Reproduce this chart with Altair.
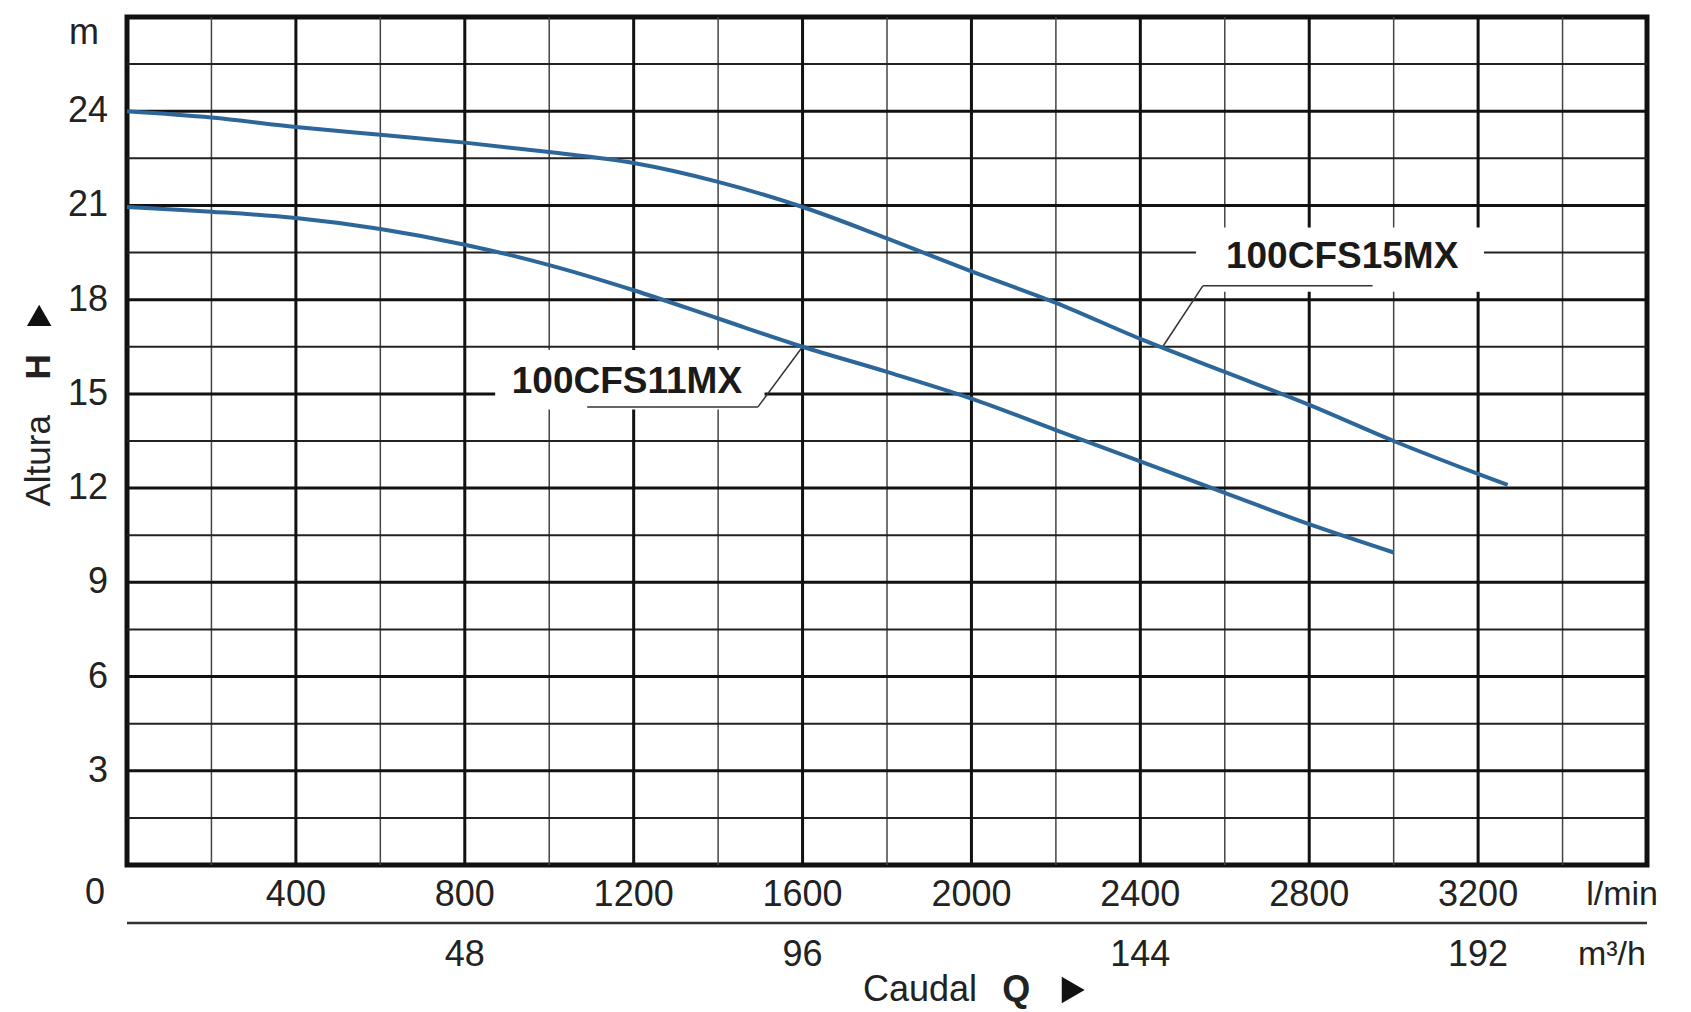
import altair as alt
import pandas as pd

# ---- data ----
q_15 = [0, 200, 400, 600, 800, 1000, 1200, 1400, 1600, 1800, 2000, 2200, 2400, 2600, 2800, 3000, 3200, 3270]
h_15 = [24.0, 23.8, 23.5, 23.25, 23.0, 22.7, 22.35, 21.75, 20.95, 19.95, 18.9, 17.9, 16.75, 15.7, 14.65, 13.5, 12.45, 12.1]
q_11 = [0, 200, 400, 600, 800, 1000, 1200, 1400, 1600, 1800, 2000, 2200, 2400, 2600, 2800, 3000]
h_11 = [20.95, 20.8, 20.6, 20.25, 19.75, 19.1, 18.3, 17.4, 16.5, 15.7, 14.85, 13.85, 12.85, 11.85, 10.85, 9.95]

y_ticks = [3, 6, 9, 12, 15, 18, 21, 24]
x_ticks_lmin = [400, 800, 1200, 1600, 2000, 2400, 2800, 3200]
x_ticks_m3h_pos = [800, 1600, 2400, 3200]
x_ticks_m3h_lab = ["48", "96", "144", "192"]

h_grid_major = [3, 6, 9, 12, 15, 18, 21, 24]
h_grid_minor = [1.5, 4.5, 7.5, 10.5, 13.5, 16.5, 19.5, 22.5, 25.5]
v_grid_major = [400, 800, 1200, 1600, 2000, 2400, 2800, 3200]
v_grid_minor = [200, 600, 1000, 1400, 1800, 2200, 2600, 3000, 3400]

XMAX = 3600
YMAX = 27

xs = alt.Scale(domain=[0, XMAX], nice=False, zero=False)
ys = alt.Scale(domain=[0, YMAX], nice=False, zero=False)

FONT = "Liberation Sans"
BLUE = "#2d6699"


def X(f="x"):
    return alt.X(f"{f}:Q", scale=xs, axis=None)


def Y(f="y"):
    return alt.Y(f"{f}:Q", scale=ys, axis=None)


# grid
hmaj = pd.DataFrame({"y": h_grid_major, "x": 0, "x2": XMAX})
hmin = pd.DataFrame({"y": h_grid_minor, "x": 0, "x2": XMAX})
vmaj = pd.DataFrame({"x": v_grid_major, "y": 0, "y2": YMAX})
vmin = pd.DataFrame({"x": v_grid_minor, "y": 0, "y2": YMAX})

g_hmaj = alt.Chart(hmaj).mark_rule(color="#111", strokeWidth=3).encode(x=X(), x2="x2:Q", y=Y())
g_hmin = alt.Chart(hmin).mark_rule(color="#222", strokeWidth=2).encode(x=X(), x2="x2:Q", y=Y())
g_vmaj = alt.Chart(vmaj).mark_rule(color="#111", strokeWidth=3).encode(x=X(), y=Y(), y2="y2:Q")
g_vmin = alt.Chart(vmin).mark_rule(color="#444", strokeWidth=1.5).encode(x=X(), y=Y(), y2="y2:Q")

# white label boxes
boxes = pd.DataFrame({
    "x": [872, 2532], "x2": [1510, 3214],
    "y": [14.5, 18.25], "y2": [16.4, 20.3],
})
g_boxes = alt.Chart(boxes).mark_rect(color="white").encode(x=X(), x2="x2:Q", y=Y(), y2="y2:Q")

# leader lines
leaders = pd.DataFrame({
    "x": [1600, 1494, 2451, 2548],
    "x2": [1494, 1090, 2548, 2950],
    "y": [16.5, 14.58, 16.46, 18.44],
    "y2": [14.58, 14.58, 18.44, 18.44],
})
g_lead = alt.Chart(leaders).mark_rule(color="#333", strokeWidth=1.5).encode(
    x=X(), x2="x2:Q", y=Y(), y2="y2:Q")

# curves
curves = pd.concat([
    pd.DataFrame({"x": q_15, "y": h_15, "s": "100CFS15MX"}),
    pd.DataFrame({"x": q_11, "y": h_11, "s": "100CFS11MX"}),
])
g_curves = alt.Chart(curves).mark_line(color=BLUE, strokeWidth=4, interpolate="catmull-rom").encode(
    x=X(), y=Y(), detail="s:N")

# curve labels
clab = pd.DataFrame({"x": [1184, 2878], "y": [15.38, 19.36], "t": ["100CFS11MX", "100CFS15MX"]})
g_clab = alt.Chart(clab).mark_text(font=FONT, fontSize=37, fontWeight="bold", color="#1a1a1a",
                                   align="center", baseline="middle").encode(x=X(), y=Y(), text="t:N")

# y tick labels
ylab = pd.DataFrame({"x": -45, "y": y_ticks, "t": [str(v) for v in y_ticks]})
g_ylab = alt.Chart(ylab).mark_text(font=FONT, fontSize=36, color="#222", align="right",
                                   baseline="middle").encode(x=X(), y=Y(), text="t:N")

# corner labels "0" and "m"
corner = pd.DataFrame({"x": [-76, -102], "y": [-0.9, 26.5], "t": ["0", "m"]})
g_corner = alt.Chart(corner).mark_text(font=FONT, fontSize=36, color="#222", align="center",
                                       baseline="middle").encode(x=X(), y=Y(), text="t:N")

# x labels row 1 (l/min)
xlab1 = pd.DataFrame({"x": x_ticks_lmin, "y": -0.96, "t": [str(v) for v in x_ticks_lmin]})
g_xlab1 = alt.Chart(xlab1).mark_text(font=FONT, fontSize=36, color="#222", align="center",
                                     baseline="middle").encode(x=X(), y=Y(), text="t:N")

# x labels row 2 (m3/h)
xlab2 = pd.DataFrame({"x": x_ticks_m3h_pos, "y": -2.87, "t": x_ticks_m3h_lab})
g_xlab2 = alt.Chart(xlab2).mark_text(font=FONT, fontSize=36, color="#222", align="center",
                                     baseline="middle").encode(x=X(), y=Y(), text="t:N")

# unit labels
units = pd.DataFrame({"x": [3541, 3517], "y": [-0.96, -2.87], "t": ["l/min", "m³/h"]})
g_units = alt.Chart(units).mark_text(font=FONT, fontSize=34, color="#222", align="center",
                                     baseline="middle").encode(x=X(), y=Y(), text="t:N")

# separator line between unit rows
sep = pd.DataFrame({"x": [0], "x2": [XMAX], "y": [-1.85]})
g_sep = alt.Chart(sep).mark_rule(color="#333", strokeWidth=2.5).encode(x=X(), x2="x2:Q", y=Y())

# axis titles
t_reg = pd.DataFrame({"x": [1878], "y": [-3.98], "t": ["Caudal"]})
t_bold = pd.DataFrame({"x": [2106], "y": [-3.98], "t": ["Q"]})
g_t1 = alt.Chart(t_reg).mark_text(font=FONT, fontSize=36, color="#222", align="center",
                                  baseline="middle").encode(x=X(), y=Y(), text="t:N")
g_t2 = alt.Chart(t_bold).mark_text(font=FONT, fontSize=36, fontWeight="bold", color="#222",
                                   align="center", baseline="middle").encode(x=X(), y=Y(), text="t:N")
tri_r = pd.DataFrame({"x": [2241], "y": [-3.98]})
g_tri_r = alt.Chart(tri_r).mark_point(shape="triangle-right", filled=True, color="#111", size=700,
                                      opacity=1).encode(x=X(), y=Y())

a_reg = pd.DataFrame({"x": [-208], "y": [12.87], "t": ["Altura"]})
a_bold = pd.DataFrame({"x": [-208], "y": [15.86], "t": ["H"]})
g_a1 = alt.Chart(a_reg).mark_text(font=FONT, fontSize=35, color="#222", align="center",
                                  baseline="middle", angle=270).encode(x=X(), y=Y(), text="t:N")
g_a2 = alt.Chart(a_bold).mark_text(font=FONT, fontSize=35, fontWeight="bold", color="#222",
                                   align="center", baseline="middle", angle=270).encode(x=X(), y=Y(), text="t:N")
tri_u = pd.DataFrame({"x": [-208], "y": [17.5]})
g_tri_u = alt.Chart(tri_u).mark_point(shape="triangle-up", filled=True, color="#111", size=600,
                                      opacity=1).encode(x=X(), y=Y())

chart = alt.layer(
    g_vmin, g_hmin, g_vmaj, g_hmaj, g_boxes, g_lead, g_curves, g_clab,
    g_ylab, g_corner, g_xlab1, g_xlab2, g_units, g_sep, g_t1, g_t2, g_tri_r, g_a1, g_a2, g_tri_u,
).properties(
    width=1520, height=848,
    autosize=alt.AutoSizeParams(type="none"),
    padding={"left": 119, "top": 9, "right": 30, "bottom": 146},
    background="white",
).configure_view(stroke="#111", strokeWidth=5)

chart.save("out.html", embed_options={"renderer": "svg", "actions": False})
